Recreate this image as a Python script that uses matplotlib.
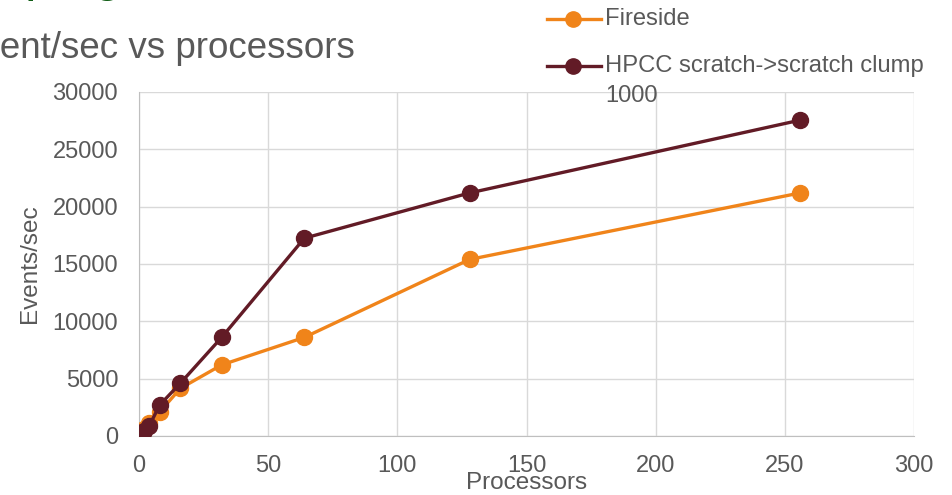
import matplotlib.pyplot as plt
from matplotlib.lines import Line2D

processors = [1, 2, 4, 8, 16, 32, 64, 128, 256]
fireside = [300, 600, 1150, 2100, 4150, 6200, 8600, 15400, 21200]
hpcc = [200, 450, 900, 2700, 4600, 8600, 17250, 21200, 27550]
series_names = ["Fireside", "HPCC scratch->scratch clump\n1000"]

orange = "#F0841A"
maroon = "#621B26"
green = "#0F5C14"
grey_text = "#595959"
grid_col = "#D9D9D9"
fs = 17

plt.rcParams["font.family"] = ["Liberation Sans", "DejaVu Sans"]

fig = plt.figure(figsize=(9.52, 4.95), dpi=100)
ax = fig.add_axes([139 / 952, 59 / 495, 775 / 952, 344 / 495])

ax.plot(processors, fireside, color=orange, lw=2.4, marker="o", ms=11.5, zorder=3)
ax.plot(processors, hpcc, color=maroon, lw=2.4, marker="o", ms=11.5, zorder=4)

ax.set_xlim(0, 300)
ax.set_ylim(0, 30000)
ax.set_xticks(range(0, 301, 50))
ax.set_yticks(range(0, 30001, 5000))
ax.grid(True, color=grid_col, lw=1)
ax.set_axisbelow(True)
for side in ["top", "right"]:
    ax.spines[side].set_visible(False)
for side in ["left", "bottom"]:
    ax.spines[side].set_color("#BFBFBF")
ax.tick_params(length=0, labelsize=fs, colors=grey_text)
ax.tick_params(axis="y", pad=15)
ax.tick_params(axis="x", pad=14)
ax.set_xlabel("Processors", fontsize=fs + 0.5, color=grey_text, va="center")
ax.xaxis.set_label_coords(0.5, -0.137)
ax.set_ylabel("Events/sec", fontsize=fs + 0.5, color=grey_text, va="center")
ax.yaxis.set_label_coords(-0.141, 0.5)

# slide heading and chart title, both running off the page edge
fig.text(-95 / 952, 1 + 10 / 495, "Clumping", fontsize=37, color=green,
         ha="left", va="baseline")
fig.text(-43 / 952, 1 - 58 / 495, "Event/sec vs processors", fontsize=26.5,
         color=grey_text, ha="left", va="baseline")

# legend drawn by hand so the handle sits on the first text line
for i, (name, col) in enumerate(zip(series_names, [orange, maroon])):
    y = 1 - (19 + 47 * i) / 495
    fig.add_artist(Line2D([547 / 952, 573 / 952, 601 / 952], [y, y, y],
                          transform=fig.transFigure, color=col, lw=2.4,
                          marker="o", ms=11, markevery=[1]))
    lines = name.split("\n")
    for j, part in enumerate(lines):
        fig.text(605 / 952, y - j * 30 / 495, part, fontsize=fs + 0.1,
                 color=grey_text, va="center", ha="left")

fig.savefig("out.png", dpi=100)
